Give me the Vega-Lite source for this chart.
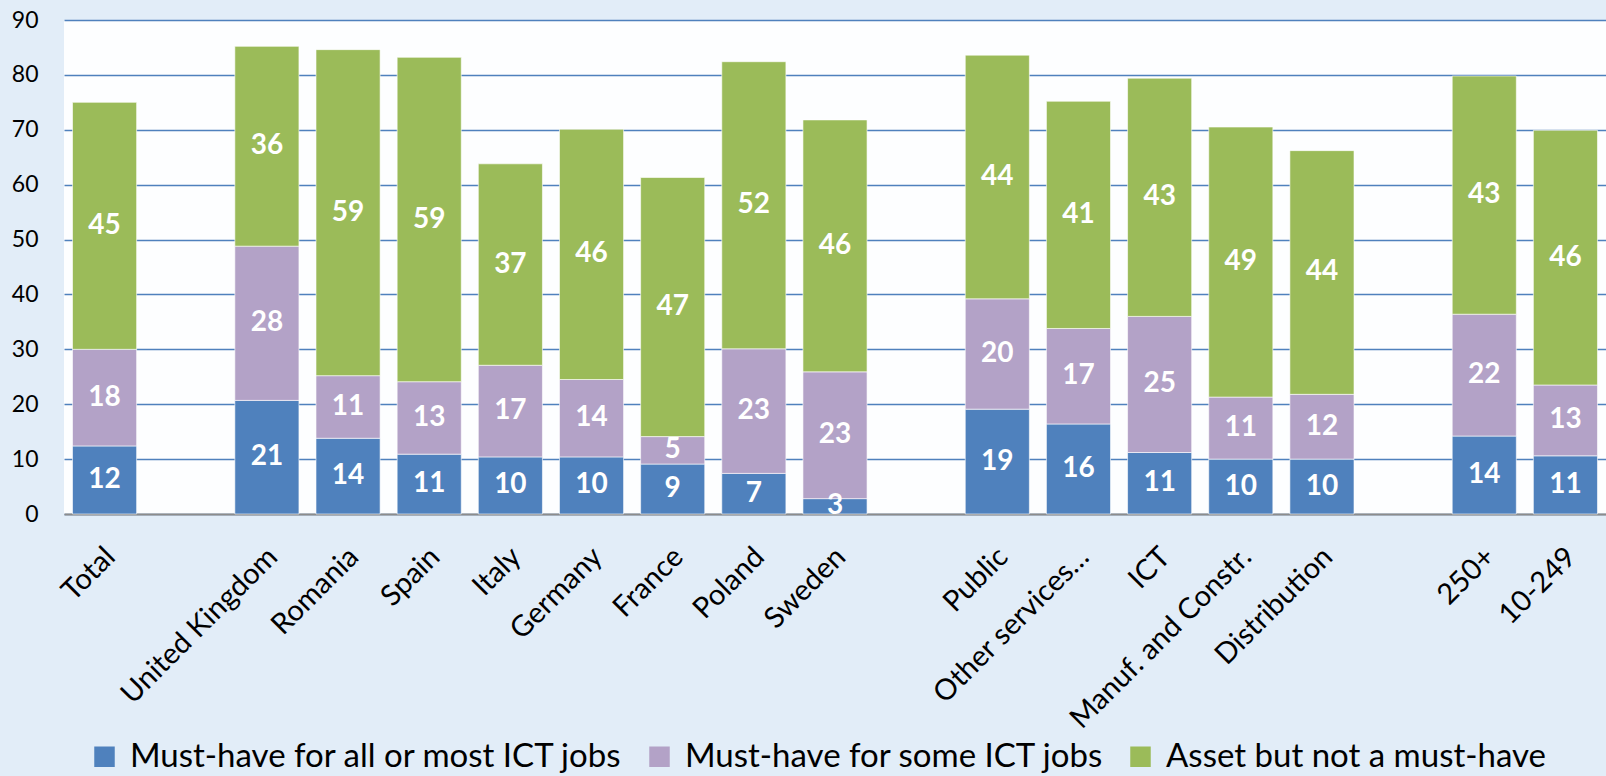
{
  "$schema": "https://vega.github.io/schema/vega-lite/v6.json",
  "autosize": {"type": "none"},
  "padding": {"left": 64, "top": 20, "right": 0, "bottom": 262},
  "width": 1542,
  "height": 494,
  "background": "#e2edf8",
  "config": {
    "view": {"stroke": null, "fill": "#fdfeff"},
    "font": "Lato"
  },
  "data": {
    "values": [
      {"cat": "Total", "series": "Must-have for all or most ICT jobs", "o": 1, "value": 12.4},
      {"cat": "Total", "series": "Must-have for some ICT jobs", "o": 2, "value": 17.6},
      {"cat": "Total", "series": "Asset but not a must-have", "o": 3, "value": 45.0},
      {"cat": "United Kingdom", "series": "Must-have for all or most ICT jobs", "o": 1, "value": 20.7},
      {"cat": "United Kingdom", "series": "Must-have for some ICT jobs", "o": 2, "value": 28.1},
      {"cat": "United Kingdom", "series": "Asset but not a must-have", "o": 3, "value": 36.4},
      {"cat": "Romania", "series": "Must-have for all or most ICT jobs", "o": 1, "value": 13.8},
      {"cat": "Romania", "series": "Must-have for some ICT jobs", "o": 2, "value": 11.4},
      {"cat": "Romania", "series": "Asset but not a must-have", "o": 3, "value": 59.4},
      {"cat": "Spain", "series": "Must-have for all or most ICT jobs", "o": 1, "value": 10.9},
      {"cat": "Spain", "series": "Must-have for some ICT jobs", "o": 2, "value": 13.2},
      {"cat": "Spain", "series": "Asset but not a must-have", "o": 3, "value": 59.1},
      {"cat": "Italy", "series": "Must-have for all or most ICT jobs", "o": 1, "value": 10.4},
      {"cat": "Italy", "series": "Must-have for some ICT jobs", "o": 2, "value": 16.7},
      {"cat": "Italy", "series": "Asset but not a must-have", "o": 3, "value": 36.7},
      {"cat": "Germany", "series": "Must-have for all or most ICT jobs", "o": 1, "value": 10.4},
      {"cat": "Germany", "series": "Must-have for some ICT jobs", "o": 2, "value": 14.1},
      {"cat": "Germany", "series": "Asset but not a must-have", "o": 3, "value": 45.6},
      {"cat": "France", "series": "Must-have for all or most ICT jobs", "o": 1, "value": 9.1},
      {"cat": "France", "series": "Must-have for some ICT jobs", "o": 2, "value": 5.0},
      {"cat": "France", "series": "Asset but not a must-have", "o": 3, "value": 47.2},
      {"cat": "Poland", "series": "Must-have for all or most ICT jobs", "o": 1, "value": 7.4},
      {"cat": "Poland", "series": "Must-have for some ICT jobs", "o": 2, "value": 22.7},
      {"cat": "Poland", "series": "Asset but not a must-have", "o": 3, "value": 52.3},
      {"cat": "Sweden", "series": "Must-have for all or most ICT jobs", "o": 1, "value": 2.8},
      {"cat": "Sweden", "series": "Must-have for some ICT jobs", "o": 2, "value": 23.1},
      {"cat": "Sweden", "series": "Asset but not a must-have", "o": 3, "value": 45.9},
      {"cat": "Public", "series": "Must-have for all or most ICT jobs", "o": 1, "value": 19.1},
      {"cat": "Public", "series": "Must-have for some ICT jobs", "o": 2, "value": 20.1},
      {"cat": "Public", "series": "Asset but not a must-have", "o": 3, "value": 44.4},
      {"cat": "Other services…", "series": "Must-have for all or most ICT jobs", "o": 1, "value": 16.4},
      {"cat": "Other services…", "series": "Must-have for some ICT jobs", "o": 2, "value": 17.4},
      {"cat": "Other services…", "series": "Asset but not a must-have", "o": 3, "value": 41.4},
      {"cat": "ICT", "series": "Must-have for all or most ICT jobs", "o": 1, "value": 11.2},
      {"cat": "ICT", "series": "Must-have for some ICT jobs", "o": 2, "value": 24.8},
      {"cat": "ICT", "series": "Asset but not a must-have", "o": 3, "value": 43.4},
      {"cat": "Manuf. and Constr.", "series": "Must-have for all or most ICT jobs", "o": 1, "value": 10.0},
      {"cat": "Manuf. and Constr.", "series": "Must-have for some ICT jobs", "o": 2, "value": 11.3},
      {"cat": "Manuf. and Constr.", "series": "Asset but not a must-have", "o": 3, "value": 49.2},
      {"cat": "Distribution", "series": "Must-have for all or most ICT jobs", "o": 1, "value": 10.0},
      {"cat": "Distribution", "series": "Must-have for some ICT jobs", "o": 2, "value": 11.8},
      {"cat": "Distribution", "series": "Asset but not a must-have", "o": 3, "value": 44.4},
      {"cat": "250+", "series": "Must-have for all or most ICT jobs", "o": 1, "value": 14.2},
      {"cat": "250+", "series": "Must-have for some ICT jobs", "o": 2, "value": 22.2},
      {"cat": "250+", "series": "Asset but not a must-have", "o": 3, "value": 43.4},
      {"cat": "10-249", "series": "Must-have for all or most ICT jobs", "o": 1, "value": 10.6},
      {"cat": "10-249", "series": "Must-have for some ICT jobs", "o": 2, "value": 12.9},
      {"cat": "10-249", "series": "Asset but not a must-have", "o": 3, "value": 46.4}
    ]
  },
  "transform": [
    {"stack": "value", "groupby": ["cat"], "sort": [{"field": "o", "order": "ascending"}], "as": ["v0", "v1"]},
    {"calculate": "(datum.v0 + datum.v1) / 2", "as": "mid"}
  ],
  "encoding": {
    "x": {
      "field": "cat",
      "type": "nominal",
      "sort": null,
      "scale": {
        "domain": ["Total", "gap1", "United Kingdom", "Romania", "Spain", "Italy", "Germany", "France", "Poland", "Sweden", "gap2", "Public", "Other services…", "ICT", "Manuf. and Constr.", "Distribution", "gap3", "250+", "10-249"],
        "paddingInner": 0.21,
        "paddingOuter": 0.105
      },
      "axis": {
        "title": null,
        "labelAngle": -45,
        "labelAlign": "right",
        "labelBaseline": "top",
        "labelPadding": 28,
        "labelOffset": -4,
        "labelFont": "Lato",
        "labelFontSize": 29,
        "labelColor": "#000000",
        "labelLimit": 400,
        "labelOverlap": false,
        "labelExpr": "indexof(datum.label, 'gap') === 0 ? '' : datum.label",
        "ticks": false,
        "domainColor": "#8c8c8c",
        "domainWidth": 2,
        "grid": false
      }
    }
  },
  "layer": [
    {
      "mark": {"type": "bar", "stroke": "#ffffff", "strokeWidth": 1, "strokeOpacity": 0.6},
      "encoding": {
        "y": {
          "field": "v0",
          "type": "quantitative",
          "scale": {"domain": [0, 90], "nice": false},
          "axis": {
            "title": null,
            "values": [0, 10, 20, 30, 40, 50, 60, 70, 80, 90],
            "grid": true,
            "gridColor": "#4f81bd",
            "gridWidth": 1.5,
            "domain": false,
            "ticks": false,
            "labelPadding": 26,
            "labelFont": "Lato",
            "labelFontSize": 23,
            "labelColor": "#000000"
          }
        },
        "y2": {"field": "v1"},
        "color": {
          "field": "series",
          "type": "nominal",
          "scale": {
            "domain": ["Must-have for all or most ICT jobs", "Must-have for some ICT jobs", "Asset but not a must-have"],
            "range": ["#4f81bd", "#b3a2c7", "#9bbb59"]
          },
          "legend": {
            "title": null,
            "orient": "none",
            "direction": "horizontal",
            "legendX": 24,
            "legendY": 720,
            "symbolType": "square",
            "symbolSize": 420,
            "symbolStrokeWidth": 0,
            "labelFont": "Lato",
            "labelFontSize": 33,
            "labelColor": "#000000",
            "labelOffset": 9,
            "labelLimit": 700,
            "columnPadding": 20
          }
        }
      }
    },
    {
      "mark": {"type": "text", "color": "#ffffff", "fontWeight": "bold", "font": "Lato", "fontSize": 28, "baseline": "middle", "align": "center"},
      "encoding": {
        "y": {"field": "mid", "type": "quantitative"},
        "text": {"field": "value", "type": "quantitative", "format": ".0f"}
      }
    }
  ]
}
